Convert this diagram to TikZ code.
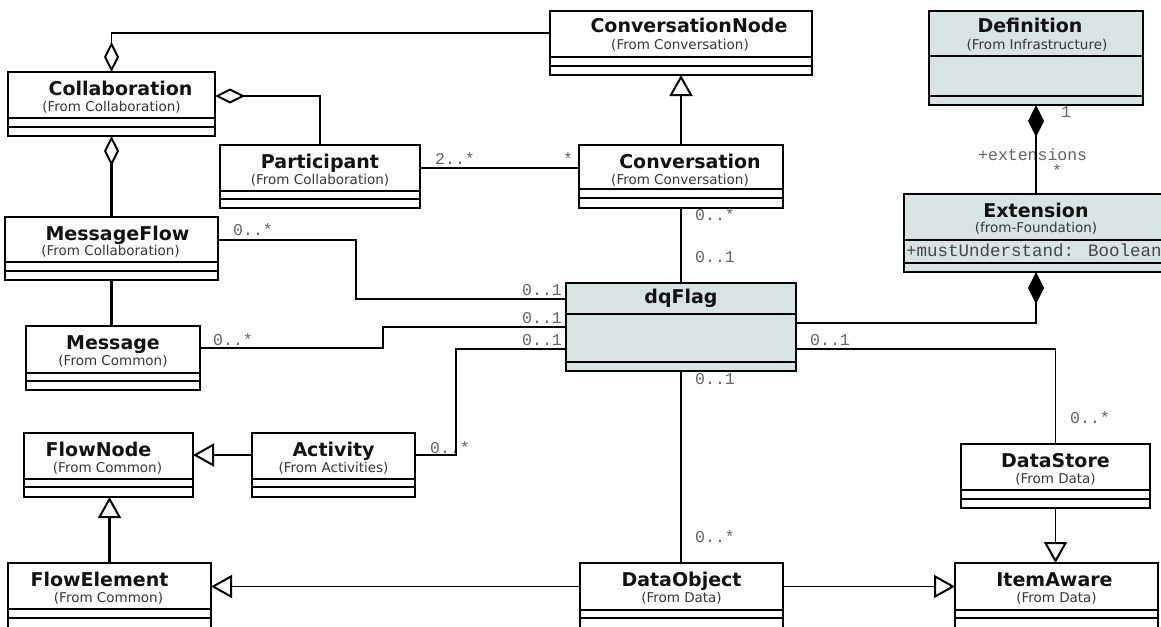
\documentclass[tikz,border=0pt]{standalone}
\usepackage{fontspec}
\usetikzlibrary{arrows.meta,calc,fit}
\newfontfamily\umlsans{DejaVu Sans}
\newfontfamily\umlmono{Liberation Mono}
\definecolor{flagfill}{RGB}{216,227,227}
\definecolor{multgray}{RGB}{100,100,100}
\definecolor{subgray}{RGB}{55,55,55}
\definecolor{attrgray}{RGB}{70,70,70}

% class box: name, x1, y1, x2, y2, first separator, second separator, extra style
\newcommand\classbox[8]{%
  \node[cls,#8,fit={(#2,#3) (#4,#5)}] (#1) {};
  \draw[sep] (#2,#6) -- (#4,#6) (#2,#7) -- (#4,#7);
}

\begin{document}
\begin{tikzpicture}[x=1pt,y=-1pt,
  cls/.style={draw=black, line width=2.3pt, fill=white, inner sep=0pt, outer sep=0pt},
  grey/.style={fill=flagfill},
  sep/.style={line width=2pt},
  title/.style={font=\umlsans\bfseries\fontsize{19}{19}\selectfont, text=black!93, anchor=base, inner sep=0pt},
  sub/.style={font=\umlsans\fontsize{13.5}{13.5}\selectfont, text=subgray, anchor=base, inner sep=0pt},
  mult/.style={font=\umlmono\fontsize{16.5}{16.5}\selectfont, text=multgray, inner sep=0pt, anchor=base west},
  multr/.style={mult, anchor=base east},
  attr/.style={font=\umlmono\fontsize{17.5}{17.5}\selectfont, text=attrgray, inner sep=0pt, anchor=base west},
  assoc/.style={line width=1.8pt},
  heavy/.style={line width=2.7pt},
  gen/.style={-{Triangle[open,length=21pt,width=23pt,line width=2pt]}},
  agg/.style={{Diamond[open,length=30pt,width=15pt,line width=2pt]}-},
  compstart/.style={{Diamond[length=32pt,width=16pt]}-},
  compend/.style={-{Diamond[length=32pt,width=16pt]}},
]
\useasboundingbox[fill=white] (0,0) rectangle (1161,626);

% ---------- classes ----------
\classbox{collab}{8}{72}{215}{136}{118}{127}{}
\classbox{part}{220}{145}{420}{208}{191}{199}{}
\classbox{convnode}{550}{11}{812}{75}{57}{66}{}
\classbox{conv}{579}{145}{783}{208}{189}{198}{}
\classbox{defn}{929}{11}{1143}{105}{56}{96}{grey}
\classbox{ext}{904}{194}{1180}{272}{240}{263}{grey}
\classbox{msgflow}{5}{217}{218}{280}{262}{271}{}
\classbox{message}{26}{326}{200}{390}{373}{381}{}
\classbox{dqflag}{566}{283}{796}{371}{314}{362}{grey}
\classbox{flownode}{24}{433}{193}{497}{479}{487}{}
\classbox{activity}{252}{433}{415}{497}{479}{487}{}
\classbox{datastore}{961}{444}{1150}{508}{490}{499}{}
\classbox{flowel}{8}{563}{211}{628}{609}{618}{}
\classbox{dataobj}{580}{563}{783}{628}{610}{618}{}
\classbox{itemaware}{955}{563}{1158}{628}{610}{618}{}

% ---------- class names ----------
\node[title] (collab-t) at ([xshift=9pt,yshift=-23pt]collab.north) {Collaboration};
\node[sub] (collab-s) at ([yshift=-39pt]collab.north) {(From Collaboration)};
\node[title] (part-t) at ([yshift=-23pt]part.north) {Participant};
\node[sub] (part-s) at ([yshift=-39pt]part.north) {(From Collaboration)};
\node[title] (convnode-t) at ([xshift=8pt,yshift=-22pt]convnode.north) {ConversationNode};
\node[sub] (convnode-s) at ([xshift=-1pt,yshift=-38pt]convnode.north) {(From Conversation)};
\node[title] (conv-t) at ([xshift=9pt,yshift=-23pt]conv.north) {Conversation};
\node[sub] (conv-s) at ([xshift=-1pt,yshift=-39pt]conv.north) {(From Conversation)};
\node[title] (defn-t) at ([xshift=-6pt,yshift=-22pt]defn.north) {Definition};
\node[sub] (defn-s) at ([xshift=1pt,yshift=-38pt]defn.north) {(From Infrastructure)};
\node[title] (ext-t) at ([xshift=-6pt,yshift=-23pt]ext.north) {Extension};
\node[sub] (ext-s) at ([xshift=-6pt,yshift=-38pt]ext.north) {(from-Foundation)};
\node[attr] (ext-a) at (906,256) {+mustUnderstand: Boolean};
\node[title] (msgflow-t) at ([xshift=6pt,yshift=-23pt]msgflow.north) {MessageFlow};
\node[sub] (msgflow-s) at ([xshift=-1pt,yshift=-38pt]msgflow.north) {(From Collaboration)};
\node[title] (message-t) at ([yshift=-23pt]message.north) {Message};
\node[sub] (message-s) at ([yshift=-39pt]message.north) {(From Common)};
\node[title] (dqflag-t) at ([yshift=-20pt]dqflag.north) {dqFlag};
\node[title] (flownode-t) at ([xshift=-10pt,yshift=-23pt]flownode.north) {FlowNode};
\node[sub] (flownode-s) at ([xshift=-1pt,yshift=-39pt]flownode.north) {(From Common)};
\node[title] (activity-t) at ([yshift=-23pt]activity.north) {Activity};
\node[sub] (activity-s) at ([yshift=-39pt]activity.north) {(From Activities)};
\node[title] (datastore-t) at ([yshift=-23pt]datastore.north) {DataStore};
\node[sub] (datastore-s) at ([yshift=-39pt]datastore.north) {(From Data)};
\node[title] (flowel-t) at ([xshift=-10pt,yshift=-23pt]flowel.north) {FlowElement};
\node[sub] (flowel-s) at ([xshift=-1pt,yshift=-39pt]flowel.north) {(From Common)};
\node[title] (dataobj-t) at ([yshift=-23pt]dataobj.north) {DataObject};
\node[sub] (dataobj-s) at ([yshift=-39pt]dataobj.north) {(From Data)};
\node[title] (itemaware-t) at ([xshift=-2pt,yshift=-23pt]itemaware.north) {ItemAware};
\node[sub] (itemaware-s) at ([yshift=-39pt]itemaware.north) {(From Data)};

% ---------- multiplicities and role names ----------
\node[mult] (m-part) at (435,164) {2..*};
\node[mult] (m-conv) at (563,164) {*};
\node[mult] (m-convdown) at (695,220) {0..*};
\node[mult] (m-flagup) at (695,262) {0..1};
\node[multr] (m-flag1) at (562,295) {0..1};
\node[multr] (m-flag2) at (562,323) {0..1};
\node[multr] (m-flag3) at (562,345) {0..1};
\node[mult] (m-msgflow) at (233,235) {0..*};
\node[mult] (m-message) at (213,345) {0..*};
\node[mult] (m-activity) at (430,453) {0..*};
\node[mult] (m-flagright) at (810,345) {0..1};
\node[mult] (m-datastore) at (1070,423) {0..*};
\node[mult] (m-flagdown) at (695,384) {0..1};
\node[mult] (m-dataobj) at (695,542) {0..*};
\node[mult] (m-defn) at (1061,117) {1};
\node[mult] (m-role) at (978,160) {+extensions};
\node[mult] (m-ext) at (1052,176) {*};

% ---------- connectors ----------
\draw[assoc,agg] (collab.north) |- ([yshift=-22pt]convnode.north west);
\draw[assoc,agg] ([yshift=-24pt]collab.north east) -| (part.north);
\draw[heavy,agg] (collab.south) -- (msgflow.north);
\draw[heavy] (msgflow.south) -- (msgflow.south |- message.north);
\draw[assoc] ([yshift=8.5pt]part.east) -- ([yshift=8.5pt]conv.west);
\draw[heavy,gen] (conv.north) -- (convnode.south);
\draw[heavy] (conv.south) -- (dqflag.north);
\draw[heavy] (dqflag.south) -- (dqflag.south |- dataobj.north);
\draw[assoc] ([yshift=8.5pt]msgflow.east) -- ++(138,0) |- ([yshift=28pt]dqflag.west);
\draw[heavy] ([yshift=10pt]message.east) -- ++(183,0) |- (dqflag.west);
\draw[assoc] ([yshift=-22pt]dqflag.west) -| ([xshift=41pt,yshift=10pt]activity.east)
  -- ([yshift=10pt]activity.east);
\draw[assoc,gen] ([yshift=10pt]activity.west) -- ([yshift=10pt]flownode.east);
\draw[heavy,gen] (flowel.north) -- (flowel.north |- flownode.south);
\draw[assoc,gen] ([yshift=9pt]dataobj.west) -- ([yshift=9pt]flowel.east);
\draw[assoc,gen] ([yshift=9pt]dataobj.east) -- ([yshift=9pt]itemaware.west);
\draw[assoc,gen] (datastore.south) -- (datastore.south |- itemaware.north);
\draw[assoc] ([yshift=-22pt]dqflag.east) -| (datastore.north);
\draw[heavy,compstart] (defn.south) -- (defn.south |- ext.north);
\draw[assoc,compend] ([yshift=4pt]dqflag.east) -| (ext.south -| defn.south);
\end{tikzpicture}
\end{document}
